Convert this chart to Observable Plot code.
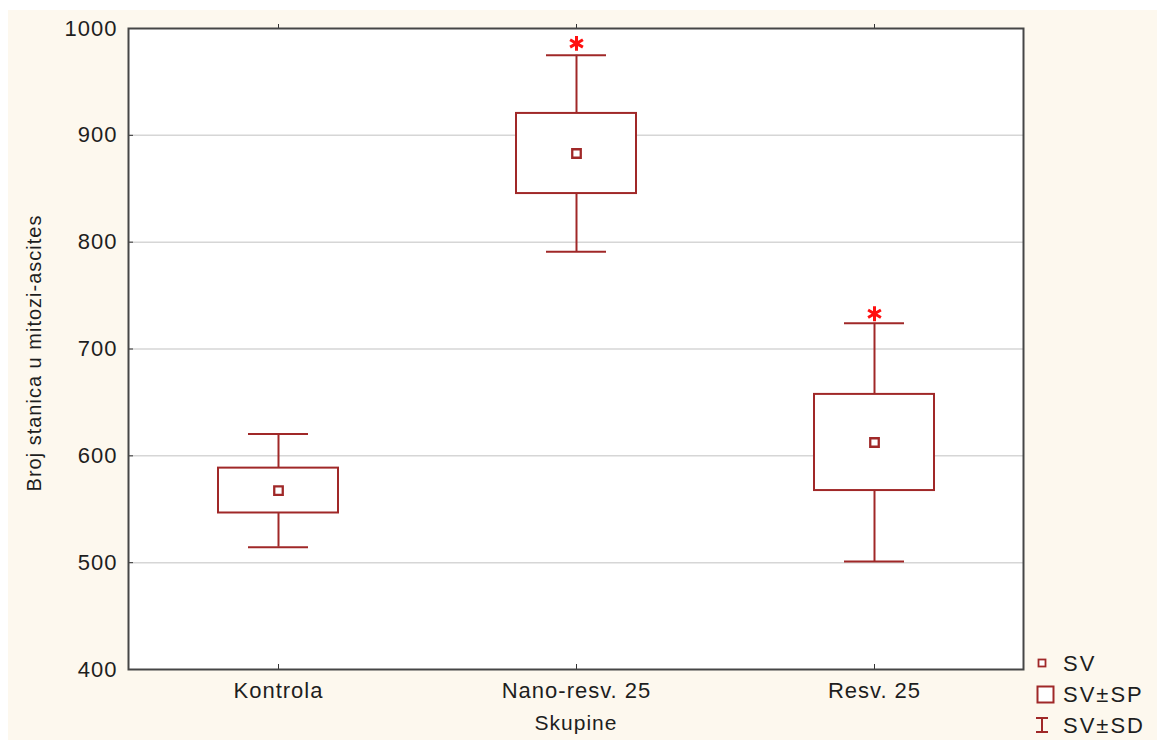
<!DOCTYPE html>
<html><head><meta charset="utf-8">
<script src="https://cdn.jsdelivr.net/npm/d3@7"></script>
<script src="https://cdn.jsdelivr.net/npm/@observablehq/plot@0.6"></script>
<style>
body{margin:0;background:#fff;}
#wrap{position:relative;width:1157px;height:742px;overflow:hidden;font-family:"Liberation Sans",Arial,sans-serif;}
#bg{position:absolute;left:8px;top:10px;width:1149px;height:730px;background:#fdf8ee;}
#chart{position:absolute;left:0;top:0;}
#legend{position:absolute;left:1020px;top:640px;}
</style></head>
<body><div id="wrap"><div id="bg"></div><div id="chart"></div><div id="legend"></div></div>
<script>
const groups = ["Kontrola", "Nano-resv. 25", "Resv. 25"];
const means = [567.5, 883, 612.5];
const se = [21, 37.5, 45];
const sd = [53, 92, 111.5];
const stars = [null, 986, 733];
const yTicks = [400, 500, 600, 700, 800, 900, 1000];
const gridTicks = [500, 600, 700, 800, 900];
const yLabel = "Broj stanica u mitozi-ascites";
const xLabel = "Skupine";
const legendLabels = ["SV", "SV±SP", "SV±SD"];

const data = groups.map((g, i) => ({group: g, mean: means[i], se: se[i], sd: sd[i], star: stars[i]}));
const red = "#a02828";
const font = "Liberation Sans, Arial, sans-serif";

const plot = Plot.plot({
  width: 1157, height: 742,
  marginLeft: 128, marginRight: 134, marginTop: 28, marginBottom: 73,
  style: {background: "transparent", fontFamily: font, color: "#1e1e1e", letterSpacing: "1px"},
  x: {type: "band", domain: groups, padding: 0},
  y: {domain: [400, 1000]},
  marks: [
    Plot.frame({fill: "white"}),
    Plot.gridY(gridTicks, {stroke: "#d6d6d6", strokeOpacity: 1, strokeWidth: 1.5}),
    Plot.ruleX(data, {x: "group", y1: d => d.mean - d.sd, y2: d => d.mean + d.sd, stroke: red, strokeWidth: 2}),
    Plot.barY(data, {x: "group", y1: d => d.mean - d.se, y2: d => d.mean + d.se, fill: "white", stroke: red, strokeWidth: 2, insetLeft: 89, insetRight: 89}),
    Plot.tickY(data, {x: "group", y: d => d.mean + d.sd, stroke: red, strokeWidth: 2, inset: 119}),
    Plot.tickY(data, {x: "group", y: d => d.mean - d.sd, stroke: red, strokeWidth: 2, inset: 119}),
    Plot.dot(data, {x: "group", y: "mean", symbol: "square", r: 4.8, stroke: red, fill: "white", strokeWidth: 2.3}),
    Plot.dot(data.filter(d => d.star != null), {x: "group", y: "star", symbol: "asterisk", r: 7, stroke: "#ff1010", strokeWidth: 3}),
    Plot.axisY({ticks: yTicks, tickFormat: d => String(d), tickSize: -5, tickPadding: 16, fontSize: 22, label: null, stroke: "#333"}),
    Plot.axisX({tickSize: -5, tickPadding: 18, fontSize: 22, label: null, stroke: "#333"}),
    Plot.axisX({anchor: "top", tickSize: 5, tickFormat: () => "", label: null, stroke: "#333"}),
    Plot.text([yLabel], {text: d => d, frameAnchor: "left", textAnchor: "middle", rotate: -90, dx: -94, dy: 4, fontSize: 20, fill: "#1e1e1e"}),
    Plot.text([xLabel], {text: d => d, frameAnchor: "bottom", dy: 60, fontSize: 21, fill: "#1e1e1e"}),
    Plot.frame({stroke: "#464646", strokeWidth: 2})
  ]
});
document.getElementById("chart").appendChild(plot);

// Legend
const lg = d3.select("#legend").append("svg").attr("width", 137).attr("height", 102)
  .style("font-family", font).style("letter-spacing", "2px");
lg.append("rect").attr("x", 18.5).attr("y", 19.5).attr("width", 7).attr("height", 7)
  .attr("fill", "white").attr("stroke", red).attr("stroke-width", 1.8);
lg.append("rect").attr("x", 17.5).attr("y", 46.5).attr("width", 16).attr("height", 16)
  .attr("fill", "white").attr("stroke", red).attr("stroke-width", 2);
lg.append("path").attr("d", "M22,78V92M16,78H28M16,92H28").attr("stroke", red).attr("stroke-width", 2).attr("fill", "none");
lg.selectAll("text.l").data(legendLabels).join("text").attr("class", "l")
  .attr("x", 43).attr("y", (d, i) => [23, 54, 85][i]).attr("dy", "0.35em")
  .attr("font-size", 22).attr("fill", "#1e1e1e").text(d => d);
</script>
</body></html>
